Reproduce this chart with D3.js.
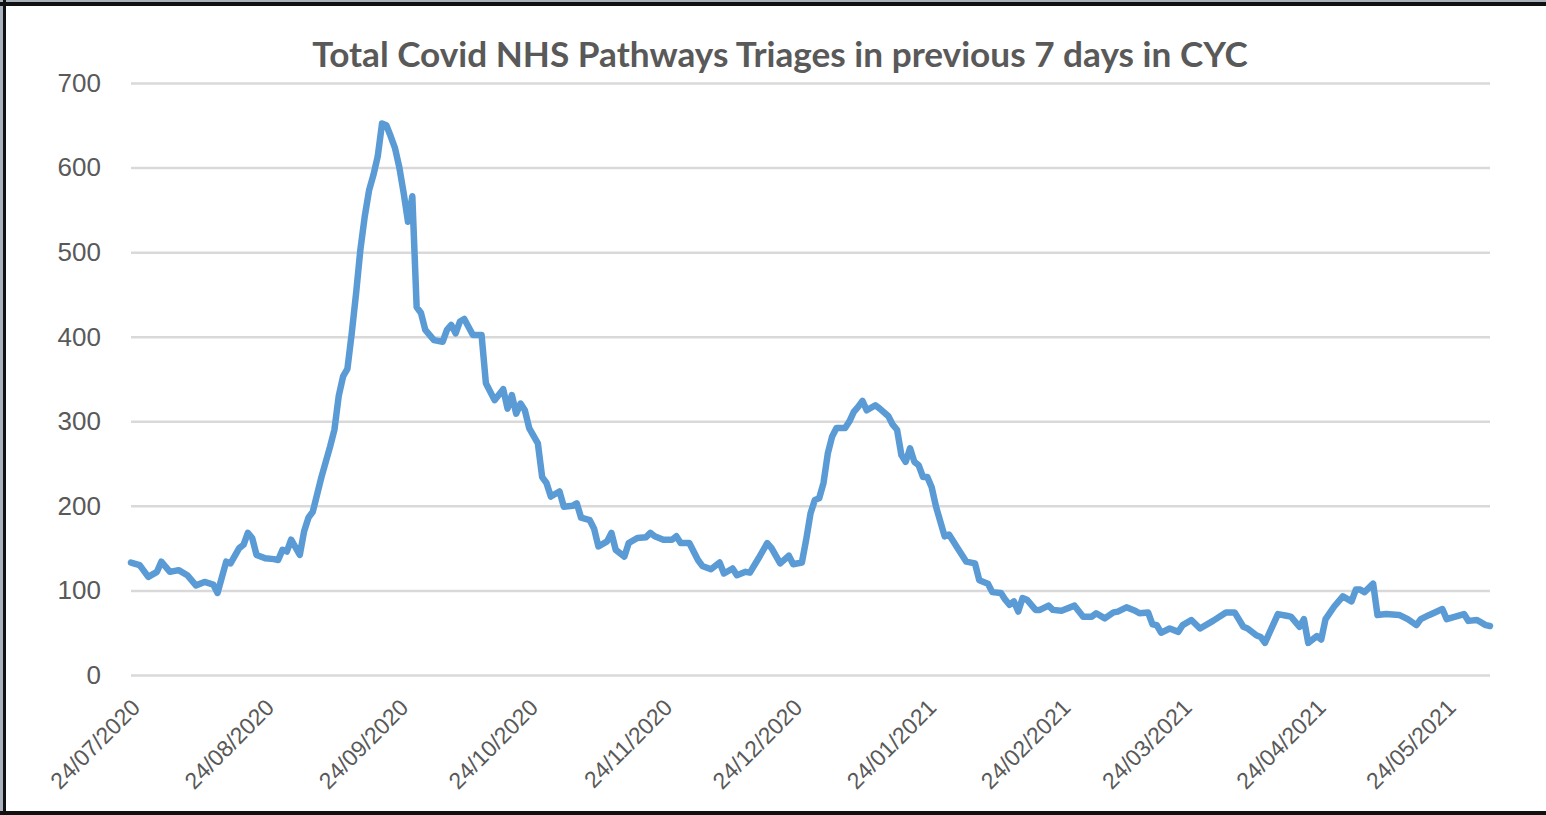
<!DOCTYPE html>
<html>
<head>
<meta charset="utf-8">
<script src="https://cdn.jsdelivr.net/npm/d3@7"></script>
<style>
  html, body { margin: 0; padding: 0; background: #ffffff; }
  svg { display: block; }
</style>
</head>
<body>
<svg id="chart" width="1546" height="815"></svg>
<script>
// ---- DATA ----
const title = "Total Covid NHS Pathways Triages in previous 7 days in CYC";
const dates = [
  "2020-07-24","2020-07-26","2020-07-28","2020-07-30","2020-07-31",
  "2020-08-02","2020-08-04","2020-08-06","2020-08-08","2020-08-10","2020-08-12","2020-08-13","2020-08-15","2020-08-16","2020-08-18","2020-08-19","2020-08-20","2020-08-21","2020-08-22","2020-08-24","2020-08-26","2020-08-27","2020-08-28","2020-08-29","2020-08-30",
  "2020-09-01","2020-09-02","2020-09-03","2020-09-04","2020-09-06","2020-09-08","2020-09-09","2020-09-10","2020-09-11","2020-09-12","2020-09-13","2020-09-14","2020-09-15","2020-09-16","2020-09-17","2020-09-18","2020-09-19","2020-09-20","2020-09-21","2020-09-22","2020-09-23","2020-09-24","2020-09-25","2020-09-26","2020-09-27","2020-09-28","2020-09-29","2020-09-30",
  "2020-10-02","2020-10-04","2020-10-05","2020-10-06","2020-10-07","2020-10-08","2020-10-09","2020-10-11","2020-10-13","2020-10-14","2020-10-16","2020-10-18","2020-10-19","2020-10-20","2020-10-21","2020-10-22","2020-10-23","2020-10-24","2020-10-26","2020-10-27","2020-10-28","2020-10-29","2020-10-31",
  "2020-11-01","2020-11-03","2020-11-04","2020-11-05","2020-11-07","2020-11-08","2020-11-09","2020-11-11","2020-11-12","2020-11-13","2020-11-15","2020-11-16","2020-11-18","2020-11-20","2020-11-21","2020-11-22","2020-11-24","2020-11-26","2020-11-27","2020-11-28","2020-11-30",
  "2020-12-02","2020-12-03","2020-12-05","2020-12-07","2020-12-08","2020-12-10","2020-12-11","2020-12-13","2020-12-14","2020-12-16","2020-12-18","2020-12-19","2020-12-21","2020-12-23","2020-12-24","2020-12-26","2020-12-27","2020-12-28","2020-12-29","2020-12-30","2020-12-31",
  "2021-01-01","2021-01-02","2021-01-03","2021-01-05","2021-01-06","2021-01-07","2021-01-08","2021-01-09","2021-01-10","2021-01-12","2021-01-13","2021-01-15","2021-01-16","2021-01-17","2021-01-18","2021-01-19","2021-01-20","2021-01-21","2021-01-22","2021-01-23","2021-01-24","2021-01-25","2021-01-26","2021-01-28","2021-01-29","2021-01-31",
  "2021-02-01","2021-02-02","2021-02-04","2021-02-05","2021-02-07","2021-02-08","2021-02-10","2021-02-11","2021-02-12","2021-02-13","2021-02-14","2021-02-15","2021-02-16","2021-02-18","2021-02-19","2021-02-21","2021-02-22","2021-02-24","2021-02-27",
  "2021-03-01","2021-03-03","2021-03-04","2021-03-06","2021-03-08","2021-03-09","2021-03-11","2021-03-13","2021-03-14","2021-03-16","2021-03-17","2021-03-18","2021-03-19","2021-03-21","2021-03-23","2021-03-24","2021-03-26","2021-03-28","2021-03-31",
  "2021-04-03","2021-04-05","2021-04-07","2021-04-08","2021-04-10","2021-04-11","2021-04-12","2021-04-15","2021-04-17","2021-04-18","2021-04-20","2021-04-21","2021-04-22","2021-04-24","2021-04-25","2021-04-26","2021-04-28","2021-04-30",
  "2021-05-02","2021-05-03","2021-05-04","2021-05-05","2021-05-07","2021-05-08","2021-05-10","2021-05-13","2021-05-15","2021-05-17","2021-05-18","2021-05-20","2021-05-23","2021-05-24","2021-05-28","2021-05-29","2021-05-31",
  "2021-06-02","2021-06-03"
];
const triages = [
  133,130,116,122,134,
  122,124,118,106,110,107,97,134,132,150,154,168,162,142,138,137,136,148,146,160,
  142,170,186,193,234,270,290,330,353,362,404,451,503,542,573,591,613,652,650,637,623,600,570,536,566,435,428,408,
  396,394,408,414,404,418,421,402,402,345,325,338,315,331,309,321,313,292,274,234,227,211,217,
  199,200,203,186,183,173,152,158,168,148,140,156,162,163,168,164,160,160,164,156,156,
  136,129,125,133,120,126,118,122,121,138,156,150,132,141,131,133,160,191,207,209,227,
  262,282,292,292,300,311,317,324,313,319,315,306,296,290,260,252,268,252,248,234,234,222,199,164,166,150,
  142,134,132,112,108,98,97,89,83,87,75,91,89,77,77,82,77,76,82,
  69,69,73,67,74,75,80,76,73,74,60,59,50,55,51,59,65,55,64,
  74,74,57,55,47,45,38,72,70,69,57,66,38,46,42,66,81,93,
  87,101,101,98,108,71,72,71,66,59,66,71,78,66,72,64,65,
  59,58
];
const yTicks = [0, 100, 200, 300, 400, 500, 600, 700];
const xTickDates = ["2020-07-24","2020-08-24","2020-09-24","2020-10-24","2020-11-24","2020-12-24","2021-01-24","2021-02-24","2021-03-24","2021-04-24","2021-05-24"];
const xDomain = ["2020-07-24", "2021-06-03"];

// ---- CHART ----
const W = 1546, H = 815;
const m = { left: 131, right: 1490, top: 83, bottom: 675 };
const parse = d3.timeParse("%Y-%m-%d");
const fmt = d3.timeFormat("%d/%m/%Y");
const data = dates.map((d, i) => ({ date: parse(d), value: triages[i] }));

const svg = d3.select("#chart");

// frame
svg.append("rect").attr("x", 0).attr("y", 0).attr("width", W).attr("height", H).attr("fill", "#ffffff");
svg.append("rect").attr("x", 0).attr("y", 0).attr("width", W).attr("height", 2).attr("fill", "#aab3bd");
svg.append("rect").attr("x", 0).attr("y", 0).attr("width", 3).attr("height", H).attr("fill", "#aab3bd");
svg.append("rect").attr("x", 0).attr("y", 2).attr("width", W).attr("height", 4).attr("fill", "#111111");
svg.append("rect").attr("x", 3).attr("y", 0).attr("width", 3).attr("height", H).attr("fill", "#111111");
svg.append("rect").attr("x", 0).attr("y", 811).attr("width", W).attr("height", 4).attr("fill", "#111111");

const x = d3.scaleTime().domain(xDomain.map(parse)).range([m.left, m.right]);
const y = d3.scaleLinear().domain([0, 700]).range([m.bottom, m.top]);

// gridlines
const yAxis = d3.axisLeft(y).tickValues(yTicks).tickSize(-(m.right - m.left)).tickPadding(30).tickFormat(d3.format("d"));
const gy = svg.append("g").attr("transform", `translate(${m.left},0)`).call(yAxis);
gy.select(".domain").remove();
gy.selectAll(".tick line").attr("stroke", "#d9d9d9").attr("stroke-width", 2.5);
gy.selectAll(".tick text")
  .attr("fill", "#595959")
  .style("font-family", "'Liberation Sans', Arial, sans-serif")
  .style("font-size", "26px");

// x axis labels
const xAxis = d3.axisBottom(x).tickValues(xTickDates.map(parse)).tickSize(0).tickFormat(fmt);
const gx = svg.append("g").attr("transform", `translate(0,${m.bottom})`).call(xAxis);
gx.select(".domain").remove();
gx.selectAll(".tick text")
  .attr("fill", "#595959")
  .style("font-family", "'Liberation Sans', Arial, sans-serif")
  .style("font-size", "23px")
  .attr("text-anchor", "end")
  .attr("dy", null)
  .attr("y", 0)
  .attr("transform", "translate(10,34) rotate(-45)");

// line
const line = d3.line().x(d => x(d.date)).y(d => y(d.value));
svg.append("path")
  .datum(data)
  .attr("d", line)
  .attr("fill", "none")
  .attr("stroke", "#5b9bd5")
  .attr("stroke-width", 6.5)
  .attr("stroke-linejoin", "round")
  .attr("stroke-linecap", "round");

// title
const t = svg.append("text")
  .attr("x", 780).attr("y", 67)
  .attr("text-anchor", "middle")
  .attr("fill", "#595959")
  .style("font-family", "Lato, 'Open Sans', sans-serif")
  .style("font-weight", "700")
  .style("font-size", "32px")
  .text(title);
const tw = t.node().getComputedTextLength();
t.style("font-size", (32 * 936 / tw).toFixed(2) + "px");
</script>
</body>
</html>
